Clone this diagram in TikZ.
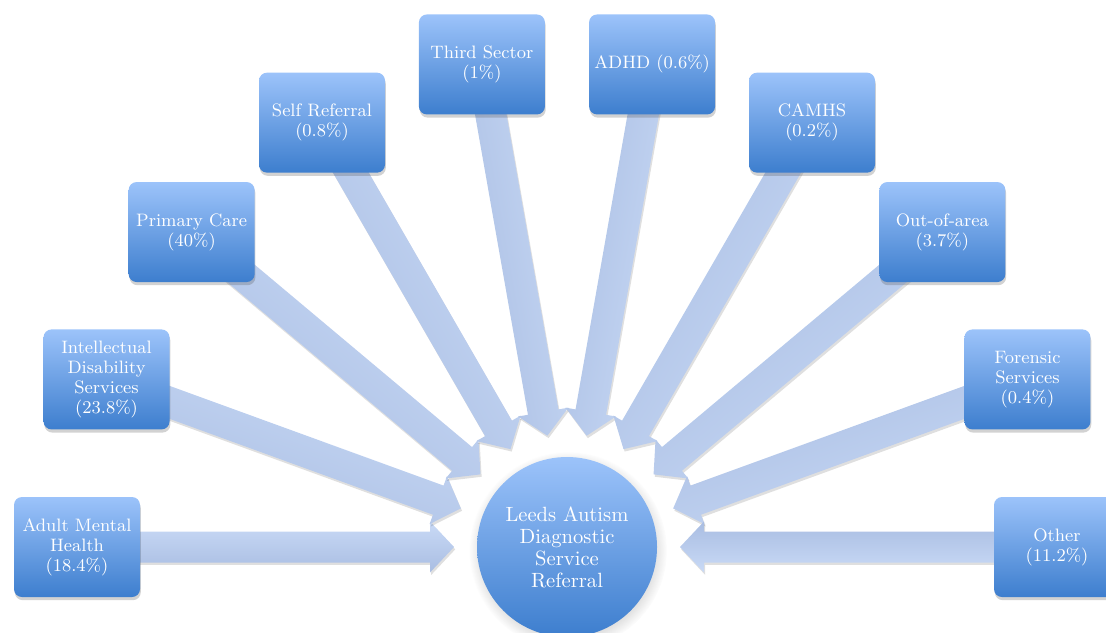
\documentclass[tikz,border=0pt]{standalone}
\usepackage{fontspec}
\usetikzlibrary{calc,positioning,shadows,backgrounds}

\begin{document}
\begin{tikzpicture}[x=0.5pt,y=-0.5pt]
  %--- Theme colors ---
  \definecolor{BoxTop}{HTML}{9CC3FA}       % light top of the boxes
  \definecolor{BoxBottom}{HTML}{3D7ECE}    % dark bottom of the boxes
  \definecolor{ArrowLight}{HTML}{C9DAF6}   % arrow near the box
  \definecolor{ArrowDark}{HTML}{A9BDE2}    % arrow near the tip

  \tikzset{
    srcbox/.style={rounded corners=4pt, minimum width=63pt, minimum height=50pt,
      inner sep=2pt, top color=BoxTop, bottom color=BoxBottom, text=white,
      align=center, font=\fontsize{9}{10}\selectfont,
      drop shadow={shadow xshift=0.4pt, shadow yshift=-1.6pt, opacity=0.25, fill=black!70}},
    hubcircle/.style={circle, minimum size=90pt, inner sep=0pt,
      top color=BoxTop, bottom color=BoxBottom, text=white, align=center,
      font=\fontsize{10.3}{11}\selectfont,
      circular drop shadow={shadow xshift=0.4pt, shadow yshift=-1.6pt, opacity=0.2, fill=black!70}},
    refarrow/.style={left color=ArrowLight, right color=ArrowDark,
      drop shadow={shadow xshift=0.6pt, shadow yshift=-1.2pt, opacity=0.18, fill=black!70}}
  }

  \useasboundingbox (0,0) rectangle (1106,632);

  %--- Centre ---
  \node[hubcircle] (lads) at (567,547) {Leeds Autism\\Diagnostic\\Service\\Referral};

  %--- Referral sources, on an arc round the centre ---
  \node[srcbox] (amh)   at ([shift={(180:245pt)}]lads.center) {Adult Mental\\Health\\(18.4\%)};
  \node[srcbox] (ids)   at ([shift={(160:245pt)}]lads.center) {Intellectual\\Disability\\Services\\(23.8\%)};
  \node[srcbox] (pc)    at ([shift={(140:245pt)}]lads.center) {Primary Care\\(40\%)};
  \node[srcbox] (sr)    at ([shift={(120:245pt)}]lads.center) {Self Referral\\(0.8\%)};
  \node[srcbox] (ts)    at ([shift={(100:245pt)}]lads.center) {Third Sector\\(1\%)};
  \node[srcbox] (adhd)  at ([shift={(80:245pt)}]lads.center)  {ADHD (0.6\%)};
  \node[srcbox] (camhs) at ([shift={(60:245pt)}]lads.center)  {CAMHS\\(0.2\%)};
  \node[srcbox] (ooa)   at ([shift={(40:245pt)}]lads.center)  {Out-of-area\\(3.7\%)};
  \node[srcbox] (fs)    at ([shift={(20:245pt)}]lads.center)  {Forensic\\Services\\(0.4\%)};
  \node[srcbox] (oth)   at ([shift={(0:245pt)}]lads.center)   {Other\\(11.2\%)};

  %--- Block arrows, behind the boxes ---
  \begin{pgfonlayer}{background}
    \foreach \src in {amh,ids,pc,sr,ts,adhd,camhs,ooa,fs,oth}{
      \coordinate (tip)  at ($(lads.center)!56.5pt!(\src.center)$);
      \coordinate (base) at ($(tip)!12pt!(\src.center)$);
      \pgfmathanglebetweenpoints{\pgfpointanchor{\src}{center}}{\pgfpointanchor{tip}{center}}
      \let\arrang\pgfmathresult
      \path[refarrow, shading angle=\arrang]
        ($(\src.center)!7.75pt!90:(tip)$) -- ($(base)!7.75pt!90:(tip)$)
        -- ($(base)!12.75pt!90:(tip)$) -- (tip)
        -- ($(base)!12.75pt!-90:(tip)$) -- ($(base)!7.75pt!-90:(tip)$)
        -- ($(\src.center)!7.75pt!-90:(tip)$) -- cycle;
    }
  \end{pgfonlayer}
\end{tikzpicture}
\end{document}
